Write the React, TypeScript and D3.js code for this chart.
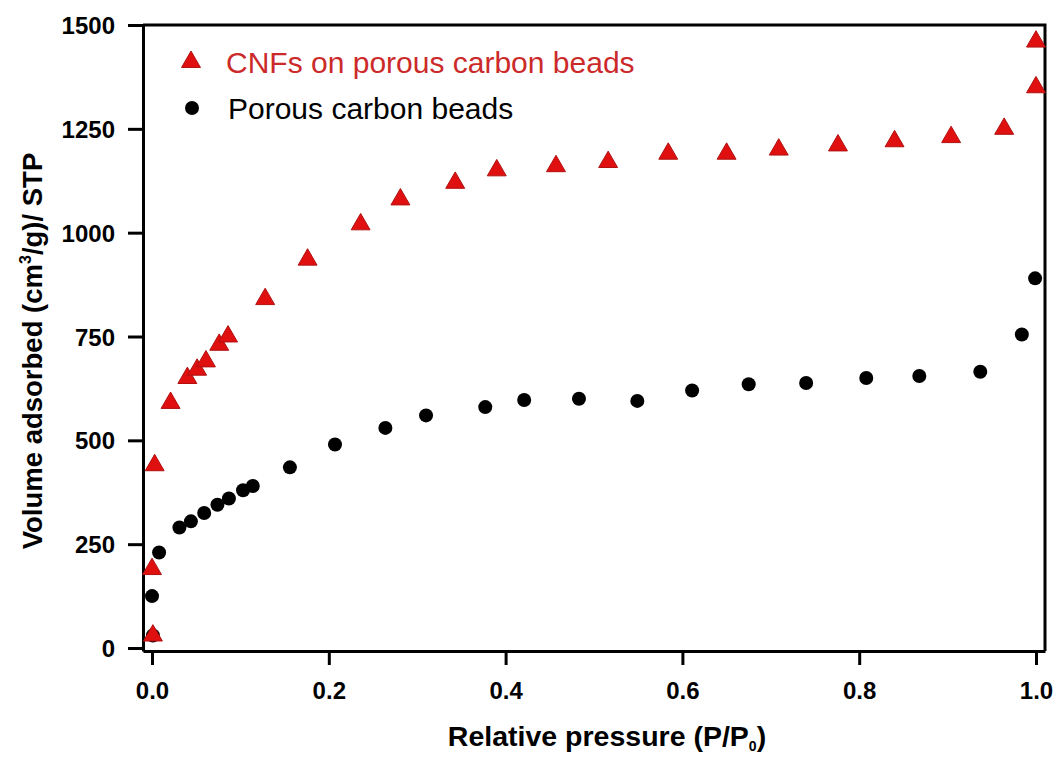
import React, { useEffect, useRef } from "react";
import * as d3 from "d3";

// CNFs on porous carbon beads (red triangles)
const cnfP = [0.001, 0.0, 0.003, 0.021, 0.04, 0.051, 0.061, 0.076, 0.086, 0.128, 0.176, 0.236, 0.281, 0.343, 0.39, 0.457, 0.516, 0.584, 0.65, 0.709, 0.776, 0.84, 0.904, 0.964, 1.0, 1.0];
const cnfV = [30, 190, 440, 590, 650, 670, 690, 730, 750, 840, 935, 1020, 1080, 1120, 1150, 1160, 1170, 1190, 1190, 1200, 1210, 1220, 1230, 1250, 1350, 1460];

// porous carbon beads (black circles)
const beadP = [0.001, 0.0, 0.008, 0.031, 0.044, 0.059, 0.074, 0.087, 0.103, 0.114, 0.156, 0.207, 0.264, 0.31, 0.377, 0.421, 0.483, 0.549, 0.611, 0.675, 0.74, 0.808, 0.868, 0.937, 0.984, 0.999];
const beadV = [30, 125, 230, 290, 305, 325, 345, 360, 380, 390, 435, 490, 530, 560, 580, 597, 600, 595, 620, 635, 638, 650, 655, 665, 755, 890];

const xMajor = [0, 0.2, 0.4, 0.6, 0.8, 1.0];
const xMinor = [0.1, 0.3, 0.5, 0.7, 0.9];
const yMajor = [0, 250, 500, 750, 1000, 1250, 1500];
const yMinor = [125, 375, 625, 875, 1125, 1375];

const W = 1058;
const H = 758;
const font = "'Liberation Sans', Arial, sans-serif";

export default function App() {
  const ref = useRef<SVGSVGElement>(null);

  useEffect(() => {
    const svg = d3.select(ref.current);
    svg.selectAll("*").remove();

    const x = d3.scaleLinear().domain([-0.0102, 1.0102]).range([143, 1045]);
    const y = d3.scaleLinear().domain([-7.2, 1500]).range([651, 25]);

    // frame top/right
    svg.append("path")
      .attr("d", `M143,25H1045V651`)
      .attr("fill", "none").attr("stroke", "#000").attr("stroke-width", 3);

    const gx = svg.append("g").attr("transform", "translate(0,651)");
    gx.call(d3.axisBottom(x).tickValues(xMinor).tickSize(7).tickSizeOuter(0).tickFormat(() => ""));
    gx.call(d3.axisBottom(x).tickValues(xMajor).tickSize(14).tickSizeOuter(0).tickFormat(d3.format(".1f")));

    const gy = svg.append("g").attr("transform", "translate(143,0)");
    gy.call(d3.axisLeft(y).tickValues(yMinor).tickSize(7).tickSizeOuter(0).tickFormat(() => ""));
    gy.call(d3.axisLeft(y).tickValues(yMajor).tickSize(15).tickSizeOuter(0).tickFormat(d3.format("d")));

    svg.selectAll(".domain").attr("stroke-width", 3);
    svg.selectAll(".tick line").attr("stroke-width", 3);
    svg.selectAll(".tick text")
      .attr("font-family", font).attr("font-weight", "bold").attr("font-size", 24).attr("fill", "#000");
    gx.selectAll(".tick text").attr("dy", "0").attr("y", 48);
    gy.selectAll(".tick text").attr("x", -28).attr("dy", "0.36em");

    // points
    const tri = d3.symbol().type(d3.symbolTriangle).size(155);
    svg.append("g").selectAll("circle")
      .data(beadP.map((p, i) => [p, beadV[i]]))
      .join("circle")
      .attr("cx", (d) => x(d[0])).attr("cy", (d) => y(d[1])).attr("r", 7)
      .attr("fill", "#000");
    svg.append("g").selectAll("path")
      .data(cnfP.map((p, i) => [p, cnfV[i]]))
      .join("path")
      .attr("d", tri as any)
      .attr("transform", (d) => `translate(${x(d[0])},${y(d[1])})`)
      .attr("fill", "#e01010").attr("stroke", "#b01010").attr("stroke-width", 1);

    // legend
    const lg = svg.append("g");
    lg.append("path").attr("d", tri as any).attr("transform", "translate(191,62)")
      .attr("fill", "#e01010").attr("stroke", "#b01010");
    lg.append("text").attr("x", 226).attr("y", 73).attr("font-family", font)
      .attr("font-size", 30).attr("fill", "#cc2a2a").text("CNFs on porous carbon beads");
    lg.append("circle").attr("cx", 192).attr("cy", 108).attr("r", 7).attr("fill", "#000");
    lg.append("text").attr("x", 228).attr("y", 119).attr("font-family", font)
      .attr("font-size", 30).attr("fill", "#000").text("Porous carbon beads");

    // axis titles
    const xt = svg.append("text").attr("x", 607).attr("y", 746).attr("text-anchor", "middle")
      .attr("font-family", font).attr("font-weight", "bold").attr("font-size", 28.5);
    xt.append("tspan").text("Relative pressure (P/P");
    xt.append("tspan").attr("font-size", 14).attr("dy", 5).text("0");
    xt.append("tspan").attr("dy", -5).text(")");

    const yt = svg.append("text").attr("transform", "translate(42,351) rotate(-90)").attr("text-anchor", "middle")
      .attr("font-family", font).attr("font-weight", "bold").attr("font-size", 27.5);
    yt.append("tspan").text("Volume adsorbed (cm");
    yt.append("tspan").attr("font-size", 16).attr("dy", -11).text("3");
    yt.append("tspan").attr("dy", 11).text("/g)/ STP");
  }, []);

  return (
    <svg ref={ref} width={W} height={H} style={{ position: "absolute", left: 0, top: 0, background: "#fff" }} />
  );
}
